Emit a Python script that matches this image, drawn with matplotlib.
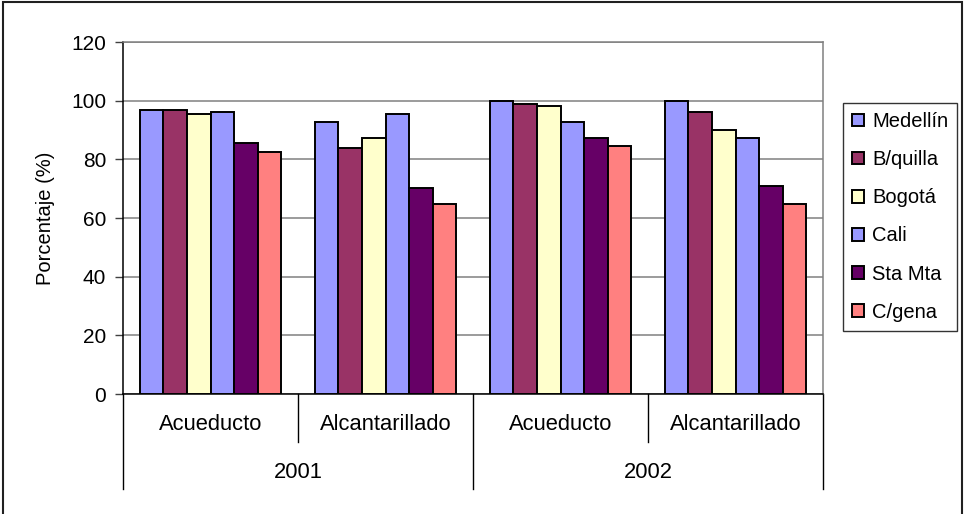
import matplotlib
matplotlib.use("Agg")
import matplotlib.pyplot as plt
from matplotlib.patches import Rectangle
from matplotlib.lines import Line2D
import numpy as np

plt.rcParams['font.family'] = ['Liberation Sans', 'DejaVu Sans']

# ---- data ----
categories = ["Acueducto", "Alcantarillado", "Acueducto", "Alcantarillado"]
years = ["2001", "2002"]
series_names = ["Medellín", "B/quilla", "Bogotá", "Cali", "Sta Mta", "C/gena"]
medellin = [96.8, 92.8, 100.0, 100.0]
bquilla = [96.8, 84.0, 99.0, 96.3]
bogota = [95.6, 87.4, 98.3, 90.1]
cali = [96.3, 95.6, 92.8, 87.4]
stamta = [85.5, 70.3, 87.4, 71.0]
cgena = [82.6, 64.9, 84.7, 64.9]
yticks = [0, 20, 40, 60, 80, 100, 120]
ylabel = "Porcentaje (%)"

series = [medellin, bquilla, bogota, cali, stamta, cgena]
colors = ["#9999FF", "#993366", "#FFFFCC", "#9999FF", "#660066", "#FF8080"]

W, H = 964, 514
fig = plt.figure(figsize=(W / 100, H / 100), dpi=100)
ax = fig.add_axes([123 / W, (H - 394) / H, (823 - 123) / W, (394 - 42) / H])

x = np.arange(len(categories))
nb = len(series)
bw = 0.135
for i, (vals, c, name) in enumerate(zip(series, colors, series_names)):
    offs = (i - (nb - 1) / 2) * bw
    ax.bar(x + offs, vals, width=bw, color=c, edgecolor="black", linewidth=1.4,
           label=name, zorder=3)

ax.set_xlim(-0.5, len(categories) - 0.5)
ax.set_ylim(0, 120)
ax.set_yticks(yticks)
ax.set_yticklabels([str(t) for t in yticks], fontsize=15)
ax.tick_params(axis="y", direction="out", length=6, width=1, color="#404040", pad=6)
ax.yaxis.grid(True, color="#808080", linewidth=1.1, zorder=0)
ax.set_xticks([])

for s in ["top", "right"]:
    ax.spines[s].set_color("#808080")
    ax.spines[s].set_linewidth(1.1)
for s in ["left", "bottom"]:
    ax.spines[s].set_color("black")
    ax.spines[s].set_linewidth(1.1)

ax.set_ylabel(ylabel, fontsize=14.5, labelpad=12)

# hierarchical category axis
trans = ax.get_xaxis_transform()
def px_to_axes_y(py):
    return -(py - 394) / (394 - 42)

for i, cat in enumerate(categories):
    ax.text(x[i], px_to_axes_y(424), cat, transform=trans, ha="center", va="center",
            fontsize=15.8)
for j, yr in enumerate(years):
    ax.text(2 * j + 0.5, px_to_axes_y(473), yr, transform=trans, ha="center", va="center",
            fontsize=15.8)
# separators
for b in np.arange(-0.5, len(categories), 1.0):
    long_sep = (int(round(b + 0.5)) % 2 == 0)
    yend = px_to_axes_y(489 if long_sep else 442)
    ax.add_line(Line2D([b, b], [0, yend], transform=trans, color="black",
                       linewidth=1.0, clip_on=False))

# legend
leg = ax.legend(loc="upper left", bbox_to_anchor=(843 / W, (H - 103) / H),
                bbox_transform=fig.transFigure, fontsize=14.5, frameon=True,
                fancybox=False, edgecolor="black", handlelength=0.6, handleheight=0.6,
                handletextpad=0.4, labelspacing=0.95, borderpad=0.45, borderaxespad=0)
leg.get_frame().set_linewidth(1.0)

# figure border (no bottom edge visible)
fig.add_artist(Rectangle((3 / W, -0.05), (962 - 3) / W, (H - 2) / H + 0.05,
                         transform=fig.transFigure, fill=False, edgecolor="#202020",
                         linewidth=1.5))

fig.savefig("out.png", dpi=100)
